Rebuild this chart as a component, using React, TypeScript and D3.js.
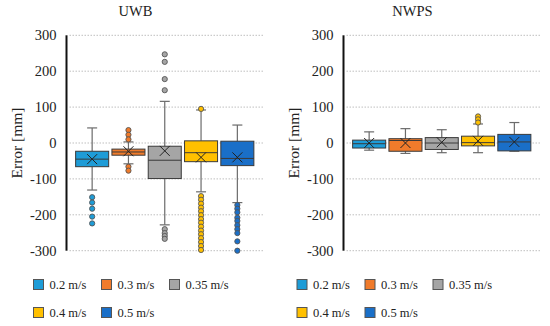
import * as React from "react";
import * as d3 from "d3";

const SERIES = ["0.2 m/s", "0.3 m/s", "0.35 m/s", "0.4 m/s", "0.5 m/s"];
const COLORS = ["#1E9CD7", "#F07B2B", "#A5A5A5", "#FFC000", "#1A6FC8"];
const Y_TICKS = [-300, -200, -100, 0, 100, 200, 300];

// UWB
const UWB_Q1 = [-66, -34, -99, -52, -63];
const UWB_MEDIAN = [-45, -25, -48, -27, -43];
const UWB_Q3 = [-23, -17, -9, 6, 5];
const UWB_MEAN = [-45, -23, -22, -40, -40];
const UWB_LOW = [-131, -58, -228, -136, -166];
const UWB_HIGH = [42, 3, 116, 92, 50];
const UWB_OUTLIERS = [
  [-151, -166, -183, -205, -224],
  [36, 23, 10, -66, -77],
  [247, 226, 178, 147, -240, -251, -259, -267],
  [95, -148, -158, -169, -180, -190, -201, -212, -222, -233, -244, -254, -265, -276, -287, -298],
  [-173, -183, -193, -208, -217, -229, -240, -251, -274, -300],
];

// NWPS
const NWPS_Q1 = [-14, -23, -18, -8, -22];
const NWPS_MEDIAN = [-2, 7, 0, 1, 3];
const NWPS_Q3 = [8, 12, 15, 19, 24];
const NWPS_MEAN = [0, 0, 2, 6, 3];
const NWPS_LOW = [-20, -29, -27, -27, -23];
const NWPS_HIGH = [31, 40, 37, 53, 57];
const NWPS_OUTLIERS = [[], [], [], [74, 66, 57], []];

const FONT = "'Liberation Serif', 'DejaVu Serif', serif";

const y = d3.scaleLinear().domain([-300, 300]).range([250.7, 35.3]);

const Panel = ({ axisX, title, q1, median, q3, mean, low, high, outliers, legendX }) => {
  const x = d3
    .scaleBand()
    .domain(SERIES)
    .range([axisX + 7.5, axisX + 189])
    .paddingInner(0.09)
    .paddingOuter(0.045);
  const bw = x.bandwidth();
  const legendCols = [0, 68, 136];

  return (
    <g>
      <text x={axisX + 69} y={16} textAnchor="middle" fontSize={14.5} fontFamily={FONT} fill="#222">
        {title}
      </text>
      {Y_TICKS.map((v) => (
        <g key={v}>
          <line
            x1={axisX + 3}
            x2={axisX + 197}
            y1={y(v)}
            y2={y(v)}
            stroke="#BFBFBF"
            strokeWidth={1}
            strokeDasharray="1.5 1.5"
          />
          <text
            x={axisX - 10}
            y={y(v)}
            dy="0.35em"
            textAnchor="end"
            fontSize={14.5}
            fontFamily={FONT}
            fill="#222"
          >
            {v}
          </text>
        </g>
      ))}
      <line x1={axisX} x2={axisX} y1={y(300)} y2={y(-300)} stroke="#111" strokeWidth={2} />
      <text
        transform={`translate(${axisX - 50},${y(0)}) rotate(-90)`}
        textAnchor="middle"
        dy="0.35em"
        fontSize={15.5}
        fontFamily={FONT}
        fill="#222"
      >
        Error [mm]
      </text>

      {SERIES.map((s, i) => {
        const x0 = x(s);
        const cx = x0 + bw / 2;
        return (
          <g key={s}>
            <line x1={cx} x2={cx} y1={y(high[i])} y2={y(q3[i])} stroke="#6B6B6B" strokeWidth={1.2} />
            <line x1={cx} x2={cx} y1={y(q1[i])} y2={y(low[i])} stroke="#6B6B6B" strokeWidth={1.2} />
            <line x1={cx - 5} x2={cx + 5} y1={y(high[i])} y2={y(high[i])} stroke="#6B6B6B" strokeWidth={1.2} />
            <line x1={cx - 5} x2={cx + 5} y1={y(low[i])} y2={y(low[i])} stroke="#6B6B6B" strokeWidth={1.2} />
            <rect
              x={x0}
              y={y(q3[i])}
              width={bw}
              height={y(q1[i]) - y(q3[i])}
              fill={COLORS[i]}
              stroke="#3A3A3A"
              strokeWidth={1}
            />
            <line x1={x0} x2={x0 + bw} y1={y(median[i])} y2={y(median[i])} stroke="#3A3A3A" strokeWidth={1} />
            <path
              d={`M${cx - 5},${y(mean[i]) - 5}L${cx + 5},${y(mean[i]) + 5}M${cx - 5},${y(mean[i]) + 5}L${cx + 5},${y(mean[i]) - 5}`}
              stroke="#222"
              strokeWidth={1}
              fill="none"
            />
            {outliers[i].map((o, j) => (
              <circle key={j} cx={cx} cy={y(o)} r={2.6} fill={COLORS[i]} stroke="#555" strokeWidth={0.9} />
            ))}
          </g>
        );
      })}

      {SERIES.map((s, i) => {
        const lx = legendX + legendCols[i % 3];
        const ly = i < 3 ? 279.5 : 307.5;
        return (
          <g key={s}>
            <rect x={lx} y={ly} width={10} height={10} fill={COLORS[i]} stroke="#555" strokeWidth={1} />
            <text x={lx + 16} y={ly + 5} dy="0.35em" fontSize={12.5} fontFamily={FONT} fill="#222">
              {s}
            </text>
          </g>
        );
      })}
    </g>
  );
};

export default function App() {
  return (
    <svg
      width={550}
      height={326}
      viewBox="0 0 550 326"
      style={{ position: "absolute", left: 0, top: 0, background: "#fff" }}
    >
      <Panel
        axisX={66.5}
        title="UWB"
        q1={UWB_Q1}
        median={UWB_MEDIAN}
        q3={UWB_Q3}
        mean={UWB_MEAN}
        low={UWB_LOW}
        high={UWB_HIGH}
        outliers={UWB_OUTLIERS}
        legendX={33.5}
      />
      <Panel
        axisX={343.5}
        title="NWPS"
        q1={NWPS_Q1}
        median={NWPS_MEDIAN}
        q3={NWPS_Q3}
        mean={NWPS_MEAN}
        low={NWPS_LOW}
        high={NWPS_HIGH}
        outliers={NWPS_OUTLIERS}
        legendX={297}
      />
    </svg>
  );
}
